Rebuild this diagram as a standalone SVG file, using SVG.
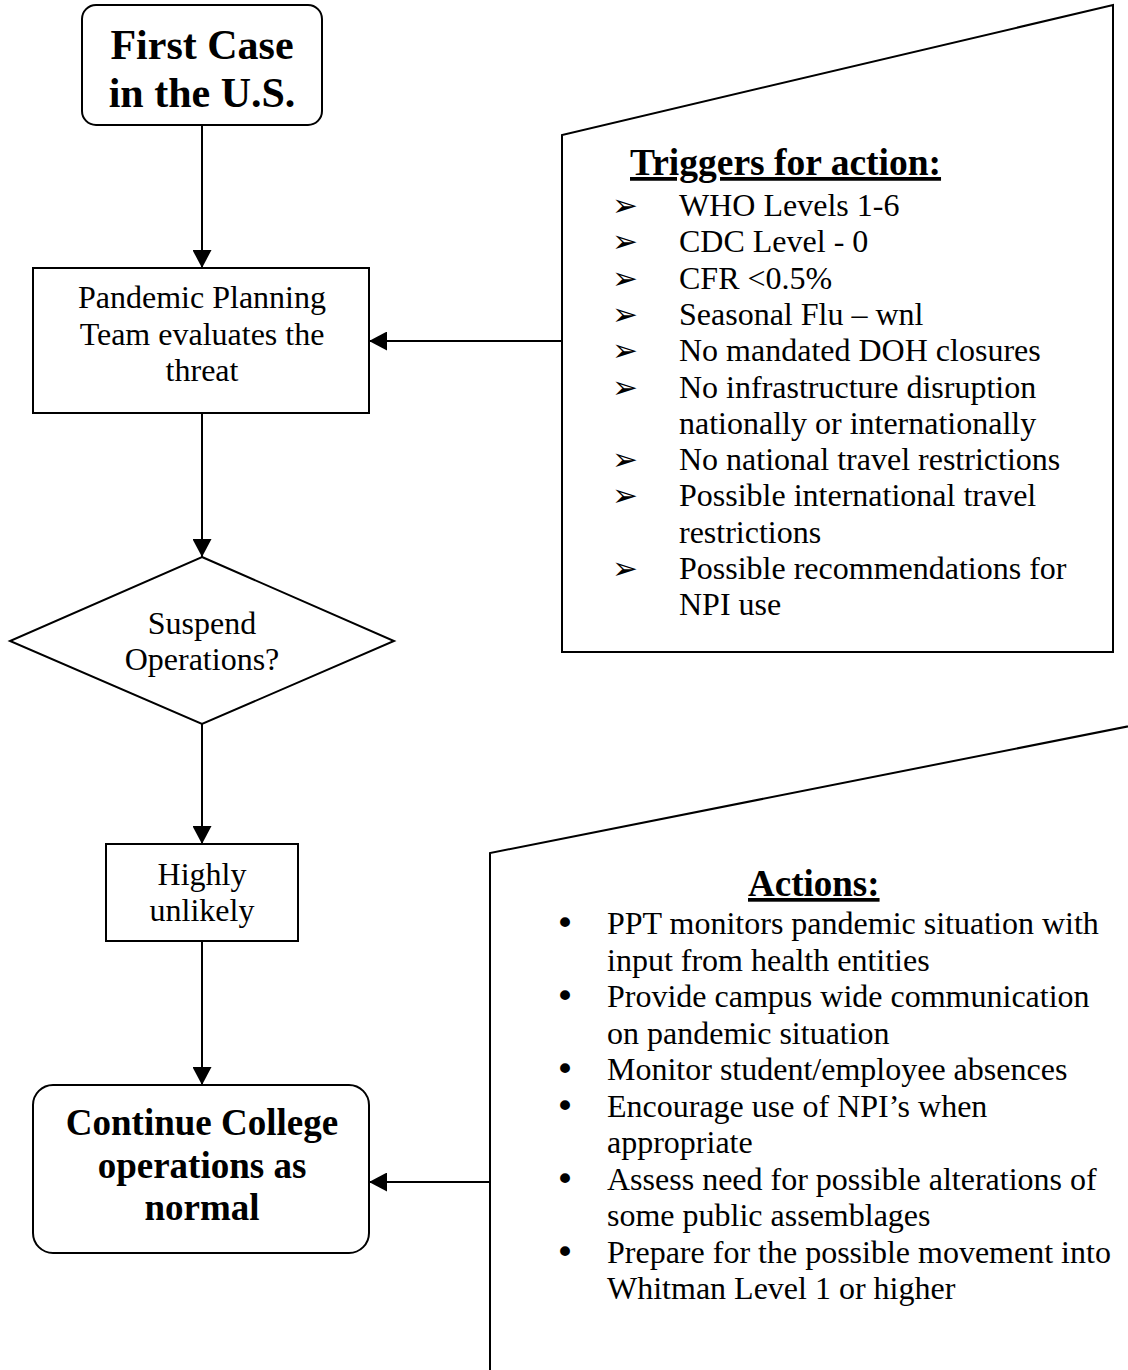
<svg xmlns="http://www.w3.org/2000/svg" width="1128" height="1370" viewBox="0 0 1128 1370">
<defs>
<style>
.shape{fill:#fff;stroke:#000;stroke-width:2}
.t{font-family:"Liberation Serif","Times New Roman",serif;font-size:32px;fill:#000}
.c{text-anchor:middle}
.b{font-weight:bold}
.h{font-family:"Liberation Serif","Times New Roman",serif;font-size:37.5px;font-weight:bold;text-decoration:underline;fill:#000}
.arw{font-family:"DejaVu Sans",sans-serif;font-size:31px;font-weight:bold;fill:#000}
.dot{font-family:"DejaVu Sans",sans-serif;font-size:34px;fill:#000}
.conn{fill:none;stroke:#000;stroke-width:2;marker-end:url(#ah)}
</style>
<marker id="ah" viewBox="0 0 18 19" refX="18" refY="9.5" markerWidth="18" markerHeight="19" markerUnits="userSpaceOnUse" orient="auto">
<path d="M0,0 L18,9.5 L0,19 z" fill="#000"/>
</marker>
</defs>
<rect width="1128" height="1370" fill="#fff"/>

<g id="triggers">
<path class="shape" d="M562,652 L562,135 L1113,5 L1113,652 Z"/>
<text class="h" x="630" y="175">Triggers for action:</text>
<g class="arw">
<text x="612" y="216">➢</text>
<text x="612" y="252.3">➢</text>
<text x="612" y="288.6">➢</text>
<text x="612" y="324.9">➢</text>
<text x="612" y="361.2">➢</text>
<text x="612" y="397.5">➢</text>
<text x="612" y="470.1">➢</text>
<text x="612" y="506.4">➢</text>
<text x="612" y="579">➢</text>
</g>
<g class="t">
<text x="679" y="216">WHO Levels 1-6</text>
<text x="679" y="252.3">CDC Level - 0</text>
<text x="679" y="288.6">CFR &lt;0.5%</text>
<text x="679" y="324.9">Seasonal Flu – wnl</text>
<text x="679" y="361.2">No mandated DOH closures</text>
<text x="679" y="397.5">No infrastructure disruption</text>
<text x="679" y="433.8">nationally or internationally</text>
<text x="679" y="470.1">No national travel restrictions</text>
<text x="679" y="506.4">Possible international travel</text>
<text x="679" y="542.7">restrictions</text>
<text x="679" y="579">Possible recommendations for</text>
<text x="679" y="615.3">NPI use</text>
</g>
</g>

<g id="actions">
<path class="shape" d="M490,1380 L490,853 L1140,724"/>
<text class="h" style="font-size:37px" x="748" y="896">Actions:</text>
<g class="dot">
<text x="555" y="935">•</text>
<text x="555" y="1008">•</text>
<text x="555" y="1081">•</text>
<text x="555" y="1117.5">•</text>
<text x="555" y="1190.5">•</text>
<text x="555" y="1263.5">•</text>
</g>
<g class="t">
<text x="607" y="934">PPT monitors pandemic situation with</text>
<text x="607" y="970.5">input from health entities</text>
<text x="607" y="1007">Provide campus wide communication</text>
<text x="607" y="1043.5">on pandemic situation</text>
<text x="607" y="1080">Monitor student/employee absences</text>
<text x="607" y="1116.5">Encourage use of NPI’s when</text>
<text x="607" y="1153">appropriate</text>
<text x="607" y="1189.5">Assess need for possible alterations of</text>
<text x="607" y="1226">some public assemblages</text>
<text x="607" y="1262.5">Prepare for the possible movement into</text>
<text x="607" y="1299">Whitman Level 1 or higher</text>
</g>
</g>

<g id="first-case">
<rect class="shape" x="82" y="5" width="240" height="120" rx="14"/>
<text class="t c b" style="font-size:42px" x="202" y="59">First Case</text>
<text class="t c b" style="font-size:42px" x="202" y="107">in the U.S.</text>
</g>

<g id="ppt">
<rect class="shape" x="33" y="268" width="336" height="145"/>
<text class="t c" x="202" y="308">Pandemic Planning</text>
<text class="t c" x="202" y="345">Team evaluates the</text>
<text class="t c" x="202" y="381">threat</text>
</g>

<g id="suspend">
<path class="shape" d="M202,557 L394,641 L202,724 L10,641 Z"/>
<text class="t c" x="202" y="634">Suspend</text>
<text class="t c" x="202" y="670">Operations?</text>
</g>

<g id="unlikely">
<rect class="shape" x="106" y="844" width="192" height="97"/>
<text class="t c" x="202" y="885">Highly</text>
<text class="t c" x="202" y="921">unlikely</text>
</g>

<g id="continue">
<rect class="shape" x="33" y="1085" width="336" height="168" rx="20"/>
<text class="t c b" style="font-size:37px" x="202" y="1135">Continue College</text>
<text class="t c b" style="font-size:37px" x="202" y="1178">operations as</text>
<text class="t c b" style="font-size:37px" x="202" y="1220">normal</text>
</g>

<g id="connectors">
<path class="conn" d="M202,125 L202,268"/>
<path class="conn" d="M202,413 L202,557"/>
<path class="conn" d="M202,724 L202,844"/>
<path class="conn" d="M202,941 L202,1085"/>
<path class="conn" d="M562,341 L369,341"/>
<path class="conn" d="M490,1182 L369,1182"/>
</g>
</svg>
